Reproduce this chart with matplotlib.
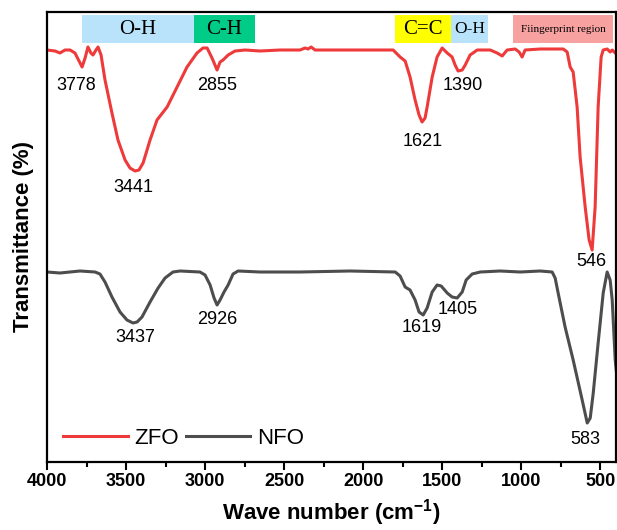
import numpy as np
import matplotlib
matplotlib.use('Agg')
import matplotlib.pyplot as plt
from matplotlib.ticker import MultipleLocator

plt.rcParams['font.family'] = 'Liberation Sans'
plt.rcParams['mathtext.fontset'] = 'custom'
plt.rcParams['mathtext.rm'] = 'Liberation Sans'
plt.rcParams['mathtext.bf'] = 'Liberation Sans:bold'

# ZFO spectrum (wave number, transmittance in arbitrary units)
zfo_wn = [4000, 3949, 3918, 3886, 3854, 3823, 3778, 3759, 3741, 3722, 3709, 3690, 3677, 3658,
          3633, 3589, 3551, 3506, 3475, 3443, 3418, 3392, 3348, 3304, 3240, 3177, 3114, 3051,
          3013, 2987, 2956, 2924, 2905, 2886, 2854, 2810, 2747, 2652, 2525, 2399, 2367, 2348,
          2329, 2304, 2146, 1956, 1810, 1766, 1734, 1703, 1671, 1646, 1627, 1608, 1595, 1563,
          1532, 1500, 1468, 1437, 1418, 1399, 1373, 1354, 1323, 1278, 1196, 1152, 1120, 1089,
          1038, 1013, 994, 975, 880, 734, 709, 690, 671, 646, 627, 595, 570, 551, 532, 513,
          494, 481, 456, 437, 424, 392]
zfo_t = [412, 411, 409, 412, 412, 409, 395, 404, 415, 409, 407, 412, 415, 407,
         382, 349, 322, 302, 294, 291, 292, 299, 322, 342, 355, 375, 395, 409,
         414, 414, 404, 392, 400, 402, 407, 411, 412, 411, 412, 412, 414, 413,
         415, 412, 412, 412, 412, 405, 401, 385, 362, 347, 340, 344, 355, 385,
         405, 414, 409, 405, 397, 391, 392, 397, 407, 412, 412, 409, 406, 412,
         413, 410, 405, 412, 413, 413, 410, 395, 390, 355, 305, 255, 222, 212, 255, 355,
         405, 412, 413, 410, 412, 407]

# NFO spectrum
nfo_wn = [4000, 3918, 3791, 3696, 3665, 3633, 3589, 3538, 3494, 3456, 3430, 3399, 3348, 3297,
          3253, 3203, 3158, 3032, 3000, 2968, 2943, 2924, 2905, 2880, 2854, 2823, 2791, 2652,
          2399, 2082, 1797, 1766, 1734, 1703, 1671, 1646, 1620, 1595, 1563, 1532, 1506, 1468,
          1437, 1405, 1373, 1348, 1310, 1259, 1133, 1006, 880, 804, 785, 766, 722, 671, 614,
          582, 563, 544, 513, 481, 456, 437, 424, 405, 392]
nfo_t = [190, 189, 191, 190, 188, 180, 165, 150, 142, 139, 140, 145, 160, 174,
         184, 190, 191, 190, 187, 177, 164, 157, 162, 170, 177, 188, 191, 190,
         190, 191, 190, 186, 175, 172, 162, 150, 147, 154, 170, 177, 176, 169,
         165, 164, 170, 182, 188, 190, 191, 190, 191, 190, 184, 169, 135, 102, 62,
         39, 44, 69, 119, 169, 190, 182, 162, 102, 82]

# peak labels: (text, x, y)
zfo_peaks = [('3778', 3816, 377), ('3441', 3456, 274), ('2855', 2924, 377),
             ('1621', 1620, 320), ('1390', 1367, 376), ('546', 557, 201)]
nfo_peaks = [('3437', 3443, 125), ('2926', 2924, 142), ('1619', 1627, 134),
             ('1405', 1399, 152), ('583', 595, 22)]

# band boxes: (label, start, end, colour, fontsize)
bands = [('O-H', 3778, 3070, '#b9e3fb', 15),
         ('C-H', 3070, 2684, '#00cc88', 15),
         ('C=C', 1797, 1443, '#ffff00', 15),
         ('O-H', 1443, 1209, '#b9e3fb', 12.5),
         ('Fiingerprint region', 1051, 418, '#f7a1a1', 8)]

fig = plt.figure(figsize=(6.17, 5.30), dpi=100)
ax = fig.add_axes([47/617, 1-462/530, 569/617, 450/530])

ax.plot(zfo_wn, zfo_t, color='#ee3a3a', lw=2.2, label='ZFO')
ax.plot(nfo_wn, nfo_t, color='#4d4d4d', lw=2.2, label='NFO')

for txt, x, y in zfo_peaks + nfo_peaks:
    ax.text(x, y, txt, fontsize=13, ha='center', va='center')

for txt, a, b, c, fs in bands:
    ax.axvspan(b, a, ymin=419/450, ymax=447/450, color=c, lw=0, zorder=0)
    ax.text((a+b)/2, 433, txt, family='Liberation Serif', fontsize=fs,
            ha='center', va='center')

ax.set_xlim(4000, 400)
ax.set_ylim(0, 450)
ax.set_yticks([])
ax.xaxis.set_major_locator(MultipleLocator(500))
ax.xaxis.set_minor_locator(MultipleLocator(250))
ax.tick_params(axis='x', which='major', direction='out', length=6, width=1.5,
               labelsize=13, pad=2)
ax.tick_params(axis='x', which='minor', direction='out', length=3.5, width=1.5)
for lab in ax.get_xticklabels():
    lab.set_fontweight('bold')
for s in ax.spines.values():
    s.set_linewidth(1.6)

ax.set_xlabel(r'Wave number (cm$\mathbf{^{-1}}$)', fontsize=16, fontweight='bold',
              labelpad=5)
ax.set_ylabel('Transmittance (%)', fontsize=16, fontweight='bold', labelpad=9)

ax.legend(loc='lower left', ncol=2, frameon=False, fontsize=16, handlelength=2.9,
          columnspacing=0.3, handletextpad=0.3, borderaxespad=0.2,
          bbox_to_anchor=(0.005, 0.0))

fig.savefig('out.png', dpi=100)
